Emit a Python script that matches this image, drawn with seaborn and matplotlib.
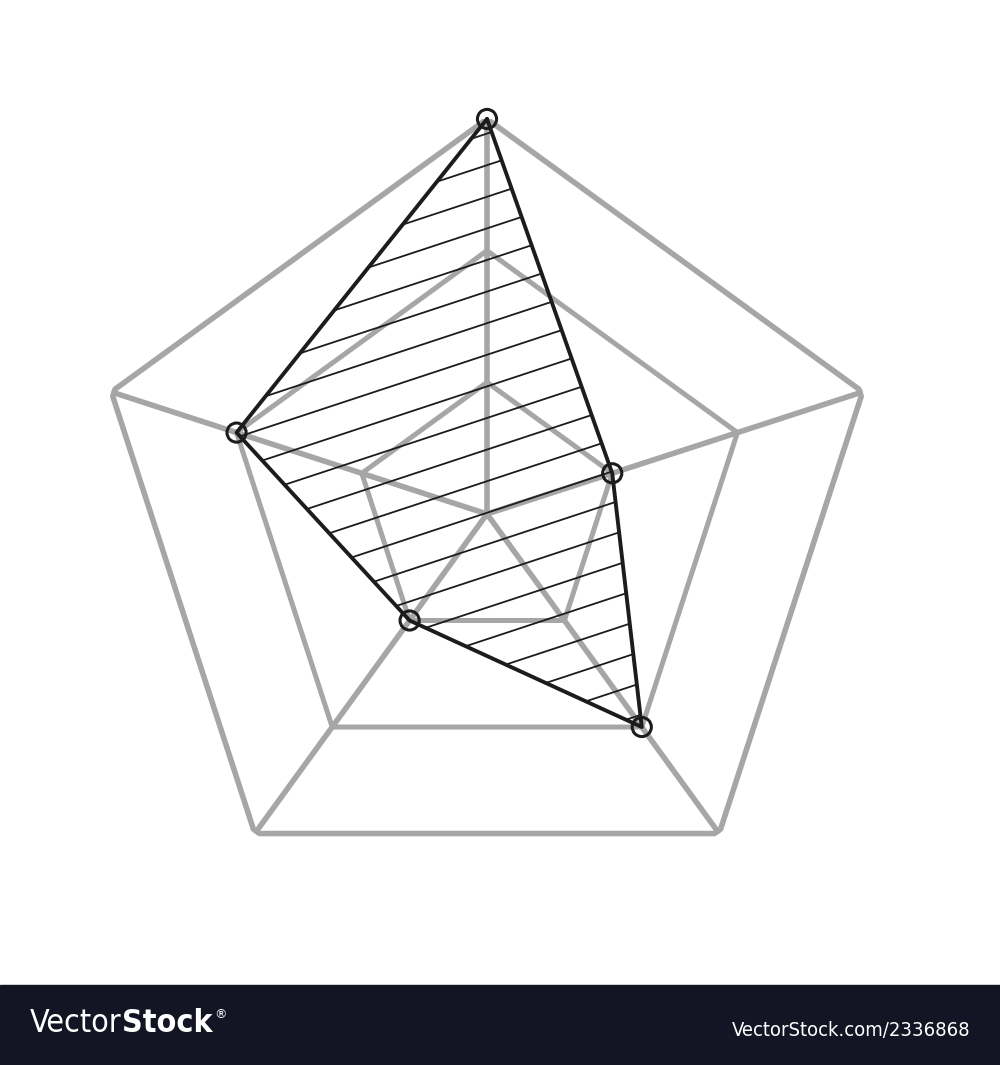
import numpy as np
import matplotlib.pyplot as plt
import seaborn as sns
from matplotlib.collections import LineCollection
from matplotlib.patches import Rectangle

# five spokes, clockwise from the top
categories = ['A', 'B', 'C', 'D', 'E']
values = [3, 1, 2, 1, 2]
ring_levels = [1, 2, 3]

grid_color = '#a6a6a6'
line_color = '#1c1c1c'

sns.set_style('white')
plt.rcParams['font.family'] = ['DejaVu Sans']

fig = plt.figure(figsize=(10, 10.65), dpi=100)
ax = fig.add_axes([0.092, 0.1418, 0.79, 0.7512], projection='polar')
ax.set_theta_offset(np.pi / 2)
ax.set_theta_direction(-1)
ax.set_ylim(0, max(ring_levels))
ax.grid(False)
ax.set_xticks([])
ax.set_yticks([])
ax.spines['polar'].set_visible(False)
ax.patch.set_alpha(0)

theta = np.linspace(0, 2 * np.pi, len(categories), endpoint=False)
theta_closed = np.append(theta, theta[0])

# pentagon rings
for lvl in ring_levels:
    ax.plot(theta_closed, [lvl] * len(theta_closed), color=grid_color,
            lw=4.0 if lvl == max(ring_levels) else 3.6, solid_joinstyle='round',
            solid_capstyle='round', zorder=1)

# spokes
for t in theta:
    ax.plot([t, t], [0, max(ring_levels)], color=grid_color, lw=4.0,
            solid_capstyle='round', zorder=1)

# data polygon with hand-drawn style hatching
vals_closed = np.append(values, values[0])
poly = ax.fill(theta_closed, vals_closed, facecolor='none', edgecolor='none', zorder=2)[0]

offsets = np.arange(-0.36, 1.0, 0.04)
segs = [[(-0.05, y0), (1.05, y0 + 1.1 * 0.33)] for y0 in offsets]
hatch = LineCollection(segs, colors=line_color, linewidths=1.3,
                       transform=ax.transAxes, zorder=2)
ax.add_collection(hatch)
hatch.set_clip_path(poly)

ax.plot(theta_closed, vals_closed, color=line_color, lw=2.8,
        solid_joinstyle='round', zorder=3, clip_on=False)
ax.scatter(theta, values, s=190, facecolors='none', edgecolors=line_color,
           linewidths=2.2, zorder=4, clip_on=False)

# watermark bar
fig.patches.append(Rectangle((0, 0), 1, 80 / 1065, transform=fig.transFigure,
                             color='#131424', zorder=0))
t1 = fig.text(0.030, 0.0385, 'Vector', color='white', fontsize=23, va='center',
              fontweight='light', fontstretch='condensed')
t2 = fig.text(0, 0, 'Stock', color='white', fontsize=23, va='bottom',
              fontweight='bold', fontstretch='condensed')
fig.canvas.draw()
bb = t1.get_window_extent().transformed(fig.transFigure.inverted())
t2.set_position((bb.x1, bb.y0))
bb2 = t2.get_window_extent().transformed(fig.transFigure.inverted())
fig.text(bb2.x1 + 0.002, bb2.y1 - 0.006, '®', color='white', fontsize=9,
         va='center')
fig.text(0.970, 0.0325, 'VectorStock.com/2336868', color='white', fontsize=14.5,
         va='center', ha='right', fontstretch='condensed')

fig.savefig('out.png', dpi=100)
